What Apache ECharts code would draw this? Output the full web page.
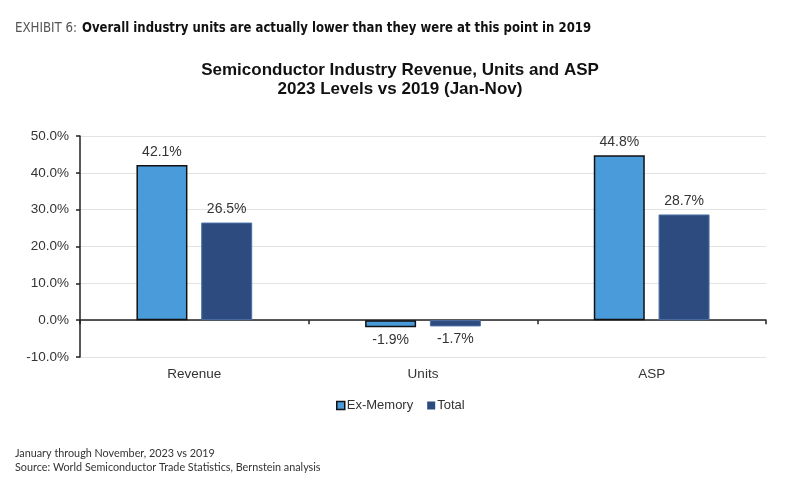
<!DOCTYPE html>
<html>
<head>
<meta charset="utf-8">
<script src="https://cdn.jsdelivr.net/npm/echarts@6/dist/echarts.min.js"></script>
<style>html,body{margin:0;padding:0;background:#fff}#c{width:785px;height:486px}</style>
</head>
<body>
<div id="c"></div>
<script>
const categories = ['Revenue', 'Units', 'ASP'];
const exMemory = [42.1, -1.9, 44.8];
const total = [26.5, -1.7, 28.7];
const seriesNames = ['Ex-Memory', 'Total'];
const yTicks = { min: -10, max: 50, interval: 10 };
const headerLabel = 'EXHIBIT 6:';
const headerText = 'Overall industry units are actually lower than they were at this point in 2019';
const titleText = 'Semiconductor Industry Revenue, Units and ASP\n2023 Levels vs 2019 (Jan-Nov)';
const footer1 = 'January through November, 2023 vs 2019';
const footer2 = 'Source: World Semiconductor Trade Statistics, Bernstein analysis';

const chart = echarts.init(document.getElementById('c'), null, { renderer: 'canvas' });
const labelStyle = {
  show: true,
  fontFamily: 'Liberation Sans, Arial, sans-serif',
  fontSize: 14,
  color: '#333',
  distance: 6,
  formatter: p => p.value.toFixed(1) + '%'
};
chart.setOption({
  animation: false,
  textStyle: { fontFamily: 'Liberation Sans, Arial, sans-serif' },
  title: {
    text: titleText,
    left: 395,
    textAlign: 'center',
    top: 56,
    textStyle: { fontSize: 17, fontWeight: 'bold', color: '#111', lineHeight: 19, fontFamily: 'Liberation Sans, Arial, sans-serif' }
  },
  graphic: [
    { type: 'text', left: 15, top: 21, scaleX: 0.94, style: { text: headerLabel, font: '14px "Liberation Sans Narrow", "DejaVu Sans Condensed", sans-serif', fill: '#555' } },
    { type: 'text', left: 82, top: 21, scaleX: 0.93, style: { text: headerText, font: 'bold 14px "Liberation Sans Narrow", "DejaVu Sans Condensed", sans-serif', fill: '#111' } },
    { type: 'text', left: 15, top: 448, style: { text: footer1, font: '10.8px Lato, "Liberation Sans", sans-serif', fill: '#333' } },
    { type: 'text', left: 15, top: 462, style: { text: footer2, font: '10.8px Lato, "Liberation Sans", sans-serif', fill: '#333' } }
  ],
  legend: {
    data: [
      { name: seriesNames[0], itemStyle: { borderColor: '#111', borderWidth: 1.5 } },
      { name: seriesNames[1], itemStyle: { borderWidth: 0 } }
    ],
    left: 331,
    top: 394,
    itemWidth: 8,
    itemHeight: 8,
    itemGap: 14,
    icon: 'rect',
    textStyle: { fontSize: 13, color: '#333', padding: [0, 0, 0, -3] }
  },
  grid: { left: 80, right: 19, top: 136, bottom: 129 },
  xAxis: [
    {
      type: 'category',
      data: categories,
      position: 'bottom',
      axisLine: { show: false, onZero: false },
      axisTick: { show: false },
      axisLabel: { fontSize: 13.5, color: '#333', margin: 10 }
    },
    {
      type: 'category',
      data: categories,
      position: 'bottom',
      axisLine: { show: true, onZero: true, lineStyle: { color: '#222', width: 1.5 } },
      axisTick: { show: true, length: 4, lineStyle: { color: '#222', width: 1.5 } },
      axisLabel: { show: false }
    }
  ],
  yAxis: {
    type: 'value',
    min: yTicks.min,
    max: yTicks.max,
    interval: yTicks.interval,
    axisLine: { show: true, lineStyle: { color: '#222', width: 1.5 } },
    axisTick: { show: true, length: 4, lineStyle: { color: '#222', width: 1.5 } },
    axisLabel: { fontSize: 13.5, color: '#333', margin: 11, formatter: v => v.toFixed(1) + '%' },
    splitLine: { show: true, lineStyle: { color: '#e2e2e2', width: 1.2 } }
  },
  series: [
    {
      name: seriesNames[0],
      type: 'bar',
      xAxisIndex: 0,
      data: exMemory,
      barWidth: 51,
      barGap: '27%',
      itemStyle: { color: '#4a9bda', borderColor: '#111', borderWidth: 1.5 },
      label: Object.assign({}, labelStyle, { position: 'outside' })
    },
    {
      name: seriesNames[1],
      type: 'bar',
      xAxisIndex: 0,
      data: total,
      barWidth: 51,
      itemStyle: { color: '#2d4b7e', borderColor: '#4d72a8', borderWidth: 1 },
      label: Object.assign({}, labelStyle, { position: 'outside' })
    }
  ]
});
</script>
</body>
</html>
